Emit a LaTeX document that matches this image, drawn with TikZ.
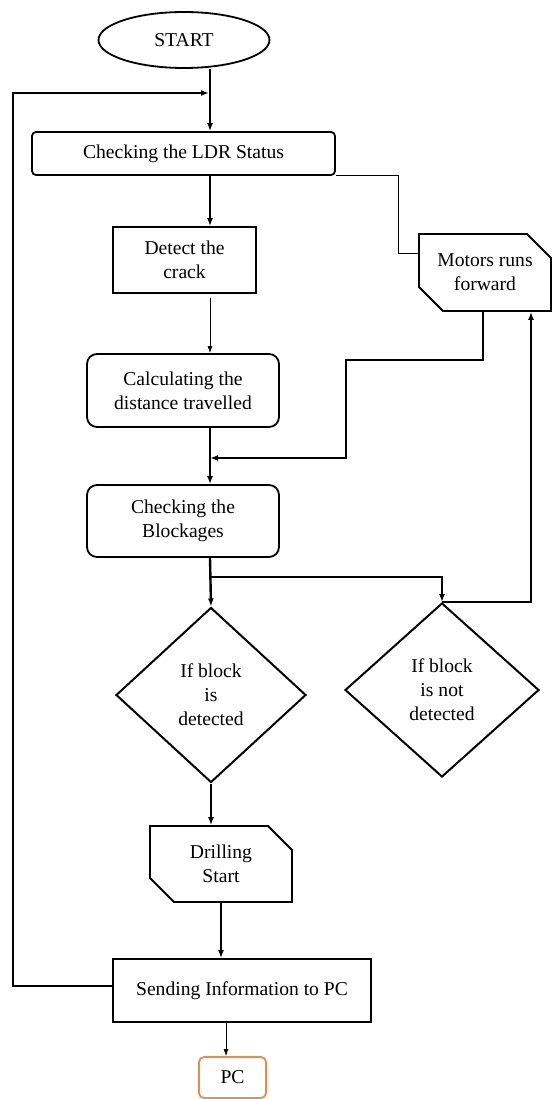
\documentclass[tikz,border=0pt]{standalone}
\usepackage{fontspec}
\setmainfont{Liberation Serif}
\usepackage{tikz}
\usetikzlibrary{arrows.meta,shapes.geometric,shapes.misc}
\definecolor{pcorange}{RGB}{232,140,70}

\begin{document}
\begin{tikzpicture}[x=1pt,y=-1pt,
   font=\fontsize{19.6}{24}\selectfont,
   box/.style={draw,line width=1.8pt,align=center,inner sep=0pt},
   cbox/.style={box,chamfered rectangle,chamfered rectangle corners={north east,south west},chamfered rectangle xsep=12pt,chamfered rectangle ysep=12pt},
   arr/.style={-{Latex[length=8pt,width=6pt]},line width=2.4pt},
   tarr/.style={-{Latex[length=7pt,width=5pt]},line width=0.9pt}]
   \useasboundingbox (0,0) rectangle (552,1099);
   \coordinate (col) at (210,0); % main column of arrows
   % the boxes
   \node[box,ellipse,minimum width=171pt,minimum height=56pt] (start) at (184,40) {START};
   \node[box,rounded corners=4pt,minimum width=303pt,minimum height=43pt] (ldr) at (183.5,153.5) {Checking the LDR Status};
   \node[box,minimum width=143pt,minimum height=66pt] (detect) at (184.5,260) {Detect the\\crack};
   \node[box,rounded corners=10pt,minimum width=192pt,minimum height=73pt] (calc) at (183,390.5) {Calculating the\\distance travelled};
   \node[cbox,minimum width=132pt,minimum height=77pt] (motor) at (485,272.5) {Motors runs\\forward};
   \node[box,rounded corners=10pt,minimum width=192pt,minimum height=72pt] (block) at (183,521) {Checking the\\Blockages};
   \node[box,diamond,line width=2pt,minimum width=190pt,minimum height=175pt] (yes) at (211,695) {If block\\is\\detected};
   \node[box,diamond,line width=2pt,minimum width=194pt,minimum height=174pt] (no) at (442,690) {If block\\is not\\detected};
   \node[cbox,minimum width=142pt,minimum height=76pt] (drill) at (221,864) {Drilling\\Start};
   \node[box,minimum width=258pt,minimum height=63pt] (send) at (242,990.5) {Sending Information to PC};
   \node[box,draw=pcorange,rounded corners=5pt,minimum width=67pt,minimum height=41pt] (pc) at (232.5,1077.5) {PC};
   % turning points
   \coordinate (lft) at (13,93);
   \coordinate (top) at (209,93);
   \coordinate (t1) at (398,253);
   \coordinate (m1) at (346,360);
   \coordinate (m2) at (210,458);
   \coordinate (b1) at (210,577);
   % main line
   \draw[arr] (start.south -| col) -- (ldr.north -| col);
   \draw[arr] (ldr.south -| col) -- (detect.north -| col);
   \draw[tarr,shorten <=4pt] (detect.south -| col) -- (calc.north -| col);
   \draw[arr] (calc.south -| col) -- (block.north -| col);
   \draw[arr] (block.south -| col) -- (yes.north);
   \draw[arr] (b1) -| (no.north);
   \draw[arr] (yes.south) -- (yes.south |- drill.north);
   \draw[arr] (drill.south) -- (drill.south |- send.north);
   \draw[tarr] (send.south -| 226,0) -- (pc.north -| 226,0);
   % loops
   \draw[line width=0.9pt] (ldr.south east) -| (t1) -- (t1 -| motor.west);
   \draw[arr] ([xshift=-2pt]motor.south) |- (m1) |- (m2);
   \draw[arr] (no.north) -| ([xshift=46pt]motor.south);
   \draw[arr] (send.west |- 0,986) -| (lft) -- (top);
\end{tikzpicture}
\end{document}
